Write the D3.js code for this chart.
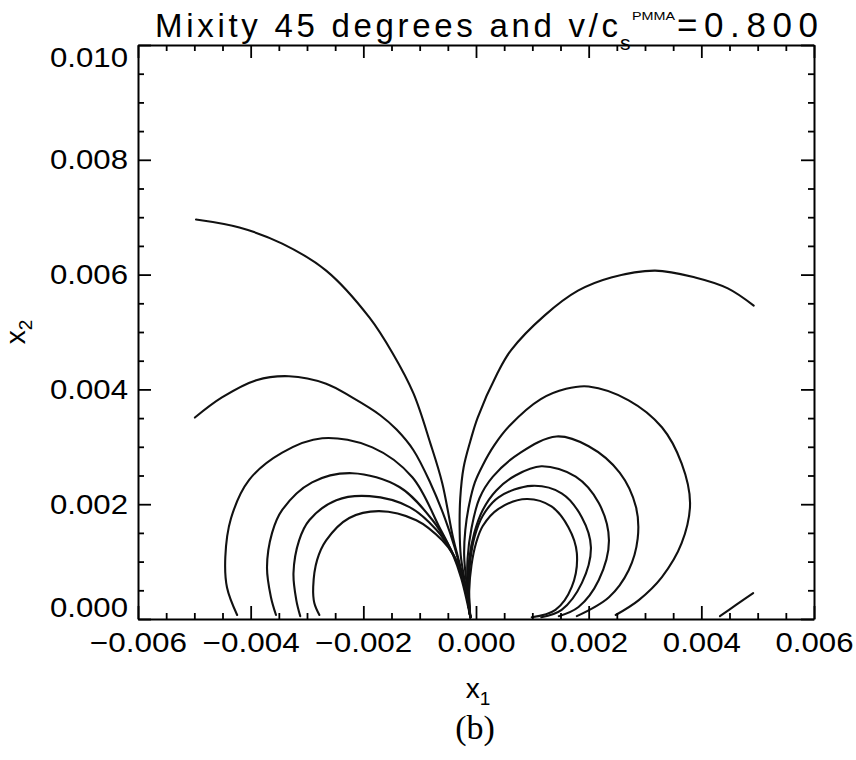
<!DOCTYPE html>
<html>
<head>
<meta charset="utf-8">
<script src="https://cdn.jsdelivr.net/npm/d3@7"></script>
<style>
  body { margin: 0; background: #fff; }
  svg { display: block; }
</style>
</head>
<body>
<svg id="chart" width="856" height="760"></svg>
<script>
// Axis ticks
const xMajorTicks = [-0.006, -0.004, -0.002, 0.000, 0.002, 0.004, 0.006];
const yMajorTicks = [0.000, 0.002, 0.004, 0.006, 0.008, 0.010];

// Isochromatic contours around the crack tip, [x1, x2] pairs.
// Each level has a left lobe (ending at the tip) and a right lobe (starting at the tip).
const left1 = [[-0.00497,0.00696],[-0.00420,0.00682],[-0.00344,0.00654],[-0.00266,0.00607],[-0.00189,0.00525],[-0.00148,0.00463],[-0.00111,0.00393],[-0.00081,0.00306],[-0.00060,0.00237],[-0.00041,0.00143],[-0.00030,0.00100],[-0.00019,0.00055],[-0.00010,0.00003]];
const right1 = [[-0.00010,0.00003],[-0.00018,0.00055],[-0.00027,0.00110],[-0.00029,0.00155],[-0.00028,0.00210],[-0.00022,0.00264],[-0.00010,0.00310],[0.00003,0.00351],[0.00038,0.00428],[0.00062,0.00468],[0.00122,0.00529],[0.00181,0.00572],[0.00240,0.00595],[0.00318,0.00607],[0.00389,0.00595],[0.00447,0.00576],[0.00493,0.00546]];
const tail1 = [[0.00433,0.00005],[0.00461,0.00024],[0.00492,0.00045]];

const left2 = [[-0.00499,0.00351],[-0.00451,0.00386],[-0.00390,0.00416],[-0.00332,0.00423],[-0.00266,0.00410],[-0.00220,0.00386],[-0.00170,0.00355],[-0.00141,0.00330],[-0.00111,0.00294],[-0.00081,0.00237],[-0.00055,0.00175],[-0.00038,0.00125],[-0.00027,0.00085],[-0.00018,0.00050],[-0.00010,0.00003]];
const right2 = [[-0.00010,0.00003],[-0.00016,0.00055],[-0.00021,0.00110],[-0.00019,0.00155],[-0.00012,0.00200],[-0.00002,0.00238],[0.00012,0.00268],[0.00032,0.00302],[0.00060,0.00337],[0.00115,0.00383],[0.00160,0.00401],[0.00200,0.00405],[0.00271,0.00381],[0.00330,0.00334],[0.00365,0.00271],[0.00380,0.00202],[0.00365,0.00132],[0.00330,0.00073],[0.00289,0.00033],[0.00248,0.00007]];

const left3 = [[-0.00424,0.00007],[-0.00442,0.00055],[-0.00445,0.00108],[-0.00435,0.00175],[-0.00403,0.00242],[-0.00344,0.00290],[-0.00273,0.00315],[-0.00184,0.00299],[-0.00113,0.00247],[-0.00065,0.00160],[-0.00042,0.00115],[-0.00026,0.00070],[-0.00010,0.00003]];
const right3 = [[-0.00010,0.00003],[-0.00015,0.00055],[-0.00015,0.00105],[-0.00008,0.00158],[0.00006,0.00210],[0.00030,0.00248],[0.00079,0.00290],[0.00143,0.00318],[0.00200,0.00301],[0.00255,0.00255],[0.00284,0.00195],[0.00287,0.00140],[0.00271,0.00085],[0.00236,0.00038],[0.00179,0.00005]];

const left4 = [[-0.00355,0.00007],[-0.00364,0.00038],[-0.00371,0.00090],[-0.00362,0.00150],[-0.00344,0.00190],[-0.00291,0.00238],[-0.00220,0.00254],[-0.00136,0.00230],[-0.00077,0.00172],[-0.00049,0.00129],[-0.00031,0.00092],[-0.00019,0.00052],[-0.00010,0.00003]];
const right4 = [[-0.00010,0.00003],[-0.00014,0.00055],[-0.00012,0.00105],[-0.00003,0.00150],[0.00012,0.00190],[0.00036,0.00224],[0.00070,0.00250],[0.00116,0.00266],[0.00177,0.00248],[0.00218,0.00202],[0.00236,0.00137],[0.00218,0.00068],[0.00182,0.00021],[0.00147,0.00005]];

const left5 = [[-0.00312,0.00005],[-0.00319,0.00033],[-0.00324,0.00080],[-0.00314,0.00137],[-0.00296,0.00172],[-0.00248,0.00207],[-0.00189,0.00214],[-0.00118,0.00195],[-0.00070,0.00155],[-0.00045,0.00120],[-0.00029,0.00088],[-0.00018,0.00050],[-0.00010,0.00003]];
const right5 = [[-0.00010,0.00003],[-0.00013,0.00055],[-0.00010,0.00103],[-0.00002,0.00145],[0.00012,0.00180],[0.00040,0.00212],[0.00099,0.00232],[0.00152,0.00219],[0.00188,0.00177],[0.00204,0.00125],[0.00188,0.00063],[0.00152,0.00016],[0.00116,0.00003]];

const left6 = [[-0.00278,0.00007],[-0.00287,0.00028],[-0.00289,0.00056],[-0.00282,0.00103],[-0.00266,0.00137],[-0.00225,0.00176],[-0.00172,0.00188],[-0.00106,0.00172],[-0.00060,0.00137],[-0.00040,0.00111],[-0.00027,0.00082],[-0.00017,0.00048],[-0.00010,0.00003]];
const right6 = [[-0.00010,0.00003],[-0.00012,0.00050],[-0.00008,0.00094],[0.00000,0.00132],[0.00012,0.00162],[0.00040,0.00192],[0.00090,0.00209],[0.00134,0.00196],[0.00164,0.00160],[0.00179,0.00115],[0.00170,0.00056],[0.00141,0.00016],[0.00099,0.00003]];

const contourPaths = [left1, right1, tail1, left2, right2, left3, right3,
                      left4, right4, left5, right5, left6, right6];

// ---------------------------------------------------------------
const svg = d3.select('#chart');
const FONT = '"Liberation Sans", Arial, sans-serif';
const x = d3.scaleLinear().domain([-0.006, 0.006]).range([138, 814]);
const y = d3.scaleLinear().domain([0, 0.010]).range([619, 45]);
const fmt = d3.format('.3f');

const xMinor = x.ticks(24).filter(v => !xMajorTicks.some(m => Math.abs(m - v) < 1e-9));
const yMinor = y.ticks(20).filter(v => !yMajorTicks.some(m => Math.abs(m - v) < 1e-9));

function styleAxis(g) {
  g.selectAll('path.domain').attr('stroke', '#000').attr('stroke-width', 2);
  g.selectAll('.tick line').attr('stroke', '#000').attr('stroke-width', 1.8);
  g.selectAll('.tick text')
    .attr('fill', '#000')
    .style('font-family', FONT)
    .style('font-size', '27px')
    .attr('textLength', d => (d < 0 ? 97 : 78))
    .attr('lengthAdjust', 'spacingAndGlyphs');
}

// Contours (drawn first, frame on top)
const line = d3.line()
  .x(d => x(d[0]))
  .y(d => y(d[1]))
  .curve(d3.curveCatmullRom.alpha(0.5));

svg.append('g')
  .selectAll('path')
  .data(contourPaths)
  .join('path')
  .attr('d', line)
  .attr('fill', 'none')
  .attr('stroke', '#111')
  .attr('stroke-width', 2.1)
  .attr('stroke-linejoin', 'round')
  .attr('stroke-linecap', 'round');

// Bottom axis
const gB = svg.append('g').attr('transform', `translate(0,${y(0)})`)
  .call(d3.axisBottom(x).tickValues(xMajorTicks).tickFormat(fmt)
    .tickSize(-13).tickSizeOuter(0).tickPadding(14));
styleAxis(gB);
const gBm = svg.append('g').attr('transform', `translate(0,${y(0)})`)
  .call(d3.axisBottom(x).tickValues(xMinor).tickFormat('').tickSize(-6).tickSizeOuter(0));
gBm.select('path.domain').remove();
styleAxis(gBm);

// Top axis
const gT = svg.append('g').attr('transform', `translate(0,${y(0.010)})`)
  .call(d3.axisTop(x).tickValues(xMajorTicks).tickFormat('').tickSize(-13).tickSizeOuter(0));
styleAxis(gT);
const gTm = svg.append('g').attr('transform', `translate(0,${y(0.010)})`)
  .call(d3.axisTop(x).tickValues(xMinor).tickFormat('').tickSize(-6).tickSizeOuter(0));
gTm.select('path.domain').remove();
styleAxis(gTm);

// Left axis
const gL = svg.append('g').attr('transform', `translate(${x(-0.006)},0)`)
  .call(d3.axisLeft(y).tickValues(yMajorTicks).tickFormat(fmt)
    .tickSize(-13).tickSizeOuter(0).tickPadding(10));
styleAxis(gL);
gL.selectAll('.tick text').attr('dy', d => {
  if (d === 0.010) return '0.78em';
  if (d === 0) return '-0.1em';
  return '0.34em';
});
const gLm = svg.append('g').attr('transform', `translate(${x(-0.006)},0)`)
  .call(d3.axisLeft(y).tickValues(yMinor).tickFormat('').tickSize(-6).tickSizeOuter(0));
gLm.select('path.domain').remove();
styleAxis(gLm);

// Right axis
const gR = svg.append('g').attr('transform', `translate(${x(0.006)},0)`)
  .call(d3.axisRight(y).tickValues(yMajorTicks).tickFormat('').tickSize(-13).tickSizeOuter(0));
styleAxis(gR);
const gRm = svg.append('g').attr('transform', `translate(${x(0.006)},0)`)
  .call(d3.axisRight(y).tickValues(yMinor).tickFormat('').tickSize(-6).tickSizeOuter(0));
gRm.select('path.domain').remove();
styleAxis(gRm);

// Title: Mixity 45 degrees and v/c_s^PMMA=0.800
const title = svg.append('g').attr('fill', '#000').style('font-family', FONT);
title.append('text').attr('x', 155).attr('y', 37)
  .style('font-size', '33px')
  .attr('textLength', 463).attr('lengthAdjust', 'spacing')
  .text('Mixity 45 degrees and v/c');
title.append('text').attr('x', 620).attr('y', 50)
  .style('font-size', '21px').text('s');
title.append('text').attr('x', 632).attr('y', 20)
  .style('font-size', '11.5px')
  .attr('textLength', 43).attr('lengthAdjust', 'spacingAndGlyphs')
  .text('PMMA');
title.append('text').attr('x', 677).attr('y', 37)
  .style('font-size', '35px')
  .attr('textLength', 141).attr('lengthAdjust', 'spacing')
  .text('=0.800');

// Axis titles
const xt = svg.append('text').attr('x', 478).attr('y', 698)
  .attr('text-anchor', 'middle').attr('fill', '#000')
  .style('font-family', FONT).style('font-size', '28px');
xt.append('tspan').text('x');
xt.append('tspan').attr('dy', 7).style('font-size', '19px').text('1');

const yt = svg.append('text')
  .attr('transform', `translate(25,${(y(0) + y(0.010)) / 2}) rotate(-90)`)
  .attr('text-anchor', 'middle').attr('fill', '#000')
  .style('font-family', FONT).style('font-size', '28px');
yt.append('tspan').text('x');
yt.append('tspan').attr('dy', 7).style('font-size', '19px').text('2');

// Panel label
svg.append('text').attr('x', 475).attr('y', 739)
  .attr('text-anchor', 'middle').attr('fill', '#000')
  .style('font-family', '"Liberation Serif", "Times New Roman", serif')
  .style('font-size', '34px')
  .text('(b)');
</script>
</body>
</html>
